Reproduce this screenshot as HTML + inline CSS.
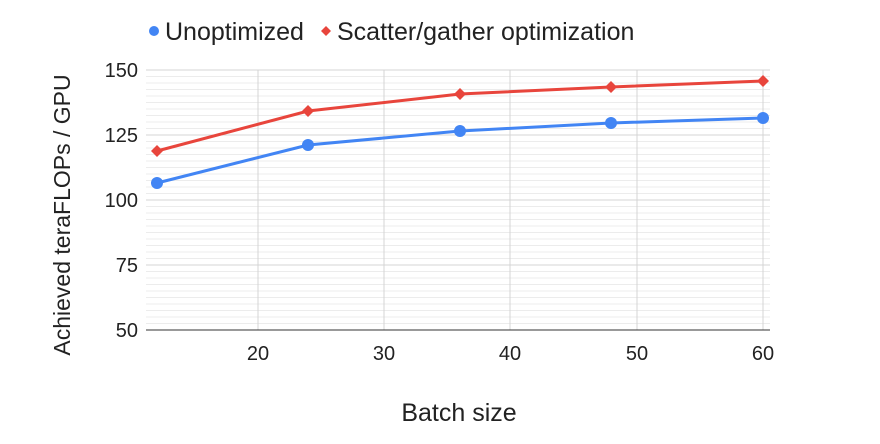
<!DOCTYPE html>
<html><head><style>body{margin:0;background:#fff}svg{display:block}</style></head><body>
<svg width="880" height="444" xmlns="http://www.w3.org/2000/svg" font-family="Liberation Sans, Arial, sans-serif">
<g stroke="#ececec" stroke-width="1">
<line x1="146" x2="770" y1="76.5" y2="76.5"/><line x1="146" x2="770" y1="83" y2="83"/><line x1="146" x2="770" y1="89.5" y2="89.5"/><line x1="146" x2="770" y1="96" y2="96"/><line x1="146" x2="770" y1="102.5" y2="102.5"/><line x1="146" x2="770" y1="109" y2="109"/><line x1="146" x2="770" y1="115.5" y2="115.5"/><line x1="146" x2="770" y1="122" y2="122"/><line x1="146" x2="770" y1="128.5" y2="128.5"/>
<line x1="146" x2="770" y1="141.5" y2="141.5"/><line x1="146" x2="770" y1="148" y2="148"/><line x1="146" x2="770" y1="154.5" y2="154.5"/><line x1="146" x2="770" y1="161" y2="161"/><line x1="146" x2="770" y1="167.5" y2="167.5"/><line x1="146" x2="770" y1="174" y2="174"/><line x1="146" x2="770" y1="180.5" y2="180.5"/><line x1="146" x2="770" y1="187" y2="187"/><line x1="146" x2="770" y1="193.5" y2="193.5"/>
<line x1="146" x2="770" y1="206.5" y2="206.5"/><line x1="146" x2="770" y1="213" y2="213"/><line x1="146" x2="770" y1="219.5" y2="219.5"/><line x1="146" x2="770" y1="226" y2="226"/><line x1="146" x2="770" y1="232.5" y2="232.5"/><line x1="146" x2="770" y1="239" y2="239"/><line x1="146" x2="770" y1="245.5" y2="245.5"/><line x1="146" x2="770" y1="252" y2="252"/><line x1="146" x2="770" y1="258.5" y2="258.5"/>
<line x1="146" x2="770" y1="271.5" y2="271.5"/><line x1="146" x2="770" y1="278" y2="278"/><line x1="146" x2="770" y1="284.5" y2="284.5"/><line x1="146" x2="770" y1="291" y2="291"/><line x1="146" x2="770" y1="297.5" y2="297.5"/><line x1="146" x2="770" y1="304" y2="304"/><line x1="146" x2="770" y1="310.5" y2="310.5"/><line x1="146" x2="770" y1="317" y2="317"/><line x1="146" x2="770" y1="323.5" y2="323.5"/>
</g>
<g stroke="#d4d4d4" stroke-width="1">
<line x1="146" x2="770" y1="70" y2="70"/><line x1="146" x2="770" y1="135" y2="135"/><line x1="146" x2="770" y1="200" y2="200"/><line x1="146" x2="770" y1="265" y2="265"/>
<line x1="258" x2="258" y1="70" y2="330"/><line x1="384" x2="384" y1="70" y2="330"/><line x1="510" x2="510" y1="70" y2="330"/><line x1="637" x2="637" y1="70" y2="330"/><line x1="763" x2="763" y1="70" y2="330"/>
</g>
<line x1="146" x2="770" y1="330" y2="330" stroke="#333" stroke-width="1"/>
<g font-size="20" fill="#222" text-anchor="end">
<text x="138" y="77">150</text><text x="138" y="142">125</text><text x="138" y="207">100</text><text x="138" y="272">75</text><text x="138" y="337">50</text>
</g>
<g font-size="20" fill="#222" text-anchor="middle">
<text x="258" y="360">20</text><text x="384" y="360">30</text><text x="510" y="360">40</text><text x="637" y="360">50</text><text x="763" y="360">60</text>
</g>
<text x="459" y="421" font-size="25" fill="#222" text-anchor="middle">Batch size</text>
<text transform="translate(70,215) rotate(-90)" font-size="23" fill="#222" text-anchor="middle">Achieved teraFLOPs / GPU</text>
<polyline fill="none" stroke="#e8453c" stroke-width="3" points="157,151 308,111 460,94 611,87 763,81"/>
<polyline fill="none" stroke="#4285f4" stroke-width="3" points="157,183 308,145 460,131 611,123 763,118"/>
<g fill="#e8453c">
<polygon points="157,145 163,151 157,157 151,151"/><polygon points="308,105 314,111 308,117 302,111"/><polygon points="460,88 466,94 460,100 454,94"/><polygon points="611,81 617,87 611,93 605,87"/><polygon points="763,75 769,81 763,87 757,81"/>
</g>
<g fill="#4285f4">
<circle cx="157" cy="183" r="6"/><circle cx="308" cy="145" r="6"/><circle cx="460" cy="131" r="6"/><circle cx="611" cy="123" r="6"/><circle cx="763" cy="118" r="6"/>
</g>
<circle cx="154" cy="31" r="5" fill="#4285f4"/>
<text x="165" y="40" font-size="25" fill="#222">Unoptimized</text>
<polygon points="326,26 331,31 326,36 321,31" fill="#e8453c"/>
<text x="337" y="40" font-size="25" fill="#222">Scatter/gather optimization</text>
</svg>
</body></html>
